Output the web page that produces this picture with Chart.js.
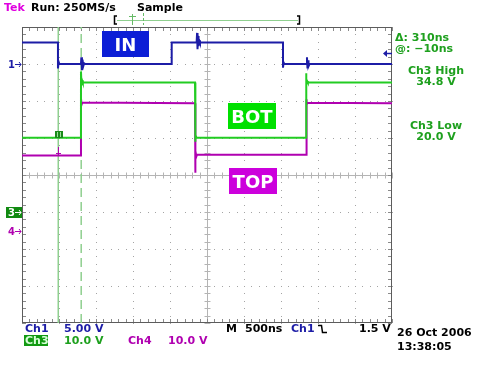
<!DOCTYPE html>
<html>
<head>
<meta charset="utf-8">
<script src="https://cdn.jsdelivr.net/npm/chart.js@4.4.0/dist/chart.umd.min.js"></script>
<style>
  html, body { margin: 0; padding: 0; background: #fff; }
  #scope { display: block; }
</style>
</head>
<body>
<canvas id="scope" width="480" height="365"></canvas>
<script>
// ---- horizontal: time in ns (10 div x 500 ns) ----
const timeDivs = [-2500, -2000, -1500, -1000, -500, 0, 500, 1000, 1500, 2000, 2500];
const vertDivs = [-4, -3, -2, -1, 0, 1, 2, 3, 4];

// ---- Ch1 (IN), volts, 5 V/div ----
const ch1Time  = [-2500, -2014, -2014, -2005, -1995, -1703, -1698, -1690, -1682, -1672, -1660, -1645,
                  -477, -477, -140, -134, -128, -121, -114, -105, -95,
                  1027, 1027, 1035, 1045, 1345, 1351, 1358, 1365, 1372, 1385, 2500];
const ch1Volts = [2.9, 2.9, -0.6, 0.3, 0, 0, 0.9, -0.8, 0.6, -0.3, 0.1, 0,
                  0, 2.9, 2.9, 4.2, 2.0, 3.8, 2.4, 3.2, 2.9,
                  2.9, -0.5, 0.2, 0, 0, 0.9, -0.6, 0.5, -0.3, 0, 0];

// ---- Ch3 (BOT), volts, 10 V/div ----
const ch3Time  = [-2500, -1703, -1703, -1696, -1688, -1678, -162, -162, -152, -142,
                  1338, 1338, 1345, 1353, 1363, 2500];
const ch3Volts = [20.1, 20.1, 38.0, 34.2, 35.6, 35.0, 35.0, 19.0, 20.8, 20.1,
                  20.1, 37.5, 34.4, 35.4, 35.0, 35.0];

// ---- Ch4 (TOP), volts, 10 V/div ----
const ch4Time  = [-2500, -1703, -1703, -1695, -1685, -162, -162, -152, -144, -135,
                  1341, 1341, 1350, 1360, 2500];
const ch4Volts = [20.3, 20.3, 35.8, 34.0, 34.6, 34.4, 15.6, 21.5, 20.0, 20.5,
                  20.5, 35.5, 34.1, 34.5, 34.4];

// ---- cursors (ns) and trigger ----
const cursorTimes = [-2010, -1700];
const trigLevel = 1.5;

const pts = (t, v) => t.map((x, i) => ({ x: x, y: v[i] }));   // pair time/value

const FONT = '"DejaVu Sans", sans-serif';
const BLUE = '#1c1ca6', GREEN = '#22cc22', MAG = '#b000b0', CUR = '#8fcf8f';

// grid, centre cross, border with ticks
const scopeGrid = {
  id: 'scopeGrid',
  beforeDatasetsDraw(chart) {
    const { ctx, chartArea: a, scales } = chart;
    const xs = scales.x, ys = scales.yGrid;
    ctx.save();
    ctx.fillStyle = '#a4a4a4';
    timeDivs.forEach(t => {                                   // dotted verticals
      if (t === 0 || t === -2500 || t === 2500) return;
      const px = Math.round(xs.getPixelForValue(t));
      for (let v = -4; v <= 4.001; v += 0.2) ctx.fillRect(px, Math.round(ys.getPixelForValue(v)), 1, 1);
    });
    vertDivs.forEach(d => {                                   // dotted horizontals
      if (d === 0 || Math.abs(d) === 4) return;
      const py = Math.round(ys.getPixelForValue(d));
      for (let t = -2500; t <= 2500; t += 100) ctx.fillRect(Math.round(xs.getPixelForValue(t)), py, 1, 1);
    });
    // centre cross
    const cx = Math.round(xs.getPixelForValue(0)) + 0.5, cy = Math.round(ys.getPixelForValue(0)) + 0.5;
    ctx.strokeStyle = '#b4b4b4';
    ctx.lineWidth = 1;
    ctx.beginPath();
    ctx.moveTo(a.left, cy); ctx.lineTo(a.right, cy);
    ctx.moveTo(cx, a.top); ctx.lineTo(cx, a.bottom);
    for (let t = -2500; t <= 2500; t += 100) {
      const px = Math.round(xs.getPixelForValue(t)) + 0.5;
      ctx.moveTo(px, cy - 3); ctx.lineTo(px, cy + 3);
    }
    for (let v = -4; v <= 4.001; v += 0.2) {
      const py = Math.round(ys.getPixelForValue(v)) + 0.5;
      ctx.moveTo(cx - 3, py); ctx.lineTo(cx + 3, py);
    }
    ctx.stroke();
    // border ticks
    ctx.strokeStyle = '#8a8a8a';
    ctx.beginPath();
    for (let t = -2500; t <= 2500; t += 100) {
      const px = Math.round(xs.getPixelForValue(t)) + 0.5;
      ctx.moveTo(px, a.top); ctx.lineTo(px, a.top + 4);
      ctx.moveTo(px, a.bottom); ctx.lineTo(px, a.bottom - 4);
    }
    for (let v = -4; v <= 4.001; v += 0.2) {
      const py = Math.round(ys.getPixelForValue(v)) + 0.5;
      ctx.moveTo(a.left, py); ctx.lineTo(a.left + 4, py);
      ctx.moveTo(a.right, py); ctx.lineTo(a.right - 4, py);
    }
    ctx.stroke();
    ctx.strokeStyle = '#5c5c5c';
    ctx.strokeRect(a.left + 0.5, a.top + 0.5, a.right - a.left - 1, a.bottom - a.top - 1);
    ctx.restore();
  }
};

// screen texts, labels and markers
const scopeText = {
  id: 'scopeText',
  afterDraw(chart) {
    const { ctx, chartArea: a, scales } = chart;
    const xs = scales.x;
    const txt = (s, x, y, c, size, align) => {
      ctx.font = 'bold ' + (size || 11) + 'px ' + FONT;
      ctx.fillStyle = c;
      ctx.textAlign = align || 'left';
      ctx.fillText(s, x, y);
    };
    const arrowR = (x, y, c) => {                              // small "->"
      ctx.strokeStyle = c; ctx.lineWidth = 1;
      ctx.beginPath();
      ctx.moveTo(x, y + 0.5); ctx.lineTo(x + 6, y + 0.5);
      ctx.moveTo(x + 4, y - 2); ctx.lineTo(x + 6, y + 0.5); ctx.lineTo(x + 4, y + 3);
      ctx.stroke();
    };
    ctx.save();
    ctx.textBaseline = 'alphabetic';

    // header
    txt('Tek', 4, 11, '#e000e0');
    txt('Run: 250MS/s', 31, 11, '#000');
    txt('Sample', 137, 11, '#000');

    // record bar
    ctx.strokeStyle = CUR; ctx.lineWidth = 1;
    ctx.beginPath(); ctx.moveTo(117, 20.5); ctx.lineTo(298, 20.5); ctx.stroke();
    ctx.strokeStyle = '#000'; ctx.lineWidth = 1.5;
    ctx.beginPath();
    ctx.moveTo(117, 16); ctx.lineTo(114.5, 16); ctx.lineTo(114.5, 24); ctx.lineTo(117, 24);
    ctx.moveTo(297, 16); ctx.lineTo(299.5, 16); ctx.lineTo(299.5, 24); ctx.lineTo(297, 24);
    ctx.stroke();
    ctx.strokeStyle = '#66bb66'; ctx.lineWidth = 1;
    ctx.beginPath();
    ctx.moveTo(132.5, 14); ctx.lineTo(132.5, 25);
    ctx.moveTo(129, 16.5); ctx.lineTo(136, 16.5);
    ctx.stroke();
    ctx.setLineDash([3, 2]);
    ctx.beginPath(); ctx.moveTo(143.5, 13); ctx.lineTo(143.5, 25); ctx.stroke();
    ctx.setLineDash([]);

    // label boxes
    const box = (s, x, y, w, h, c) => {
      ctx.fillStyle = c; ctx.fillRect(x, y, w, h);
      txt(s, x + w / 2, y + h - 6, '#fff', 18, 'center');
    };
    box('IN', 102, 31, 47, 26, '#0c1ed6');
    box('BOT', 228, 103, 48, 26, '#00e000');
    box('TOP', 229, 168, 48, 26, '#cc00dc');

    // channel ground markers on left edge
    const g1 = Math.round(scales.y1.getPixelForValue(0));
    const g3 = Math.round(scales.y3.getPixelForValue(0));
    const g4 = Math.round(scales.y4.getPixelForValue(0));
    txt('1', 8, g1 + 4, BLUE, 10);
    arrowR(15, g1, BLUE);
    ctx.fillStyle = '#118a11'; ctx.fillRect(6, g3 - 5, 16, 11);
    txt('3', 8, g3 + 4, '#fff', 10);
    arrowR(15, g3, '#fff');
    txt('4', 8, g4 + 4, MAG, 10);
    arrowR(15, g4, MAG);

    // trigger level arrow on right edge
    const tl = Math.round(scales.y1.getPixelForValue(trigLevel)) + 0.5;
    ctx.strokeStyle = BLUE; ctx.fillStyle = BLUE; ctx.lineWidth = 1.5;
    ctx.beginPath(); ctx.moveTo(386, tl); ctx.lineTo(392, tl); ctx.stroke();
    ctx.beginPath(); ctx.moveTo(383, tl); ctx.lineTo(387, tl - 3.5); ctx.lineTo(387, tl + 3.5); ctx.closePath(); ctx.fill();

    // cursor / trace markers
    const cA = Math.round(xs.getPixelForValue(cursorTimes[0]));
    const m3 = Math.round(scales.y3.getPixelForValue(ch3Volts[0]));
    const m4 = Math.round(scales.y4.getPixelForValue(ch4Volts[0]));
    ctx.fillStyle = '#1a8a1a'; ctx.fillRect(cA - 3, m3 - 7, 8, 7);
    ctx.fillStyle = '#9be09b'; ctx.fillRect(cA - 1, m3 - 6, 1, 5); ctx.fillRect(cA + 2, m3 - 6, 1, 5);
    ctx.strokeStyle = MAG; ctx.lineWidth = 1;
    ctx.beginPath();
    ctx.moveTo(cA + 0.5, m4 - 8); ctx.lineTo(cA + 0.5, m4);
    ctx.moveTo(cA - 2, m4 - 1.5); ctx.lineTo(cA + 3, m4 - 1.5);
    ctx.stroke();

    // right readouts
    txt('\u0394: 310ns', 395, 41, '#1ea01e');
    txt('@: \u221210ns', 395, 52, '#1ea01e');
    txt('Ch3 High', 436, 74, '#1ea01e', 11, 'center');
    txt('34.8 V', 436, 85, '#1ea01e', 11, 'center');
    txt('Ch3 Low', 436, 129, '#1ea01e', 11, 'center');
    txt('20.0 V', 436, 140, '#1ea01e', 11, 'center');

    // bottom readouts
    txt('Ch1', 25, 332, BLUE);
    txt('5.00 V', 64, 332, BLUE);
    ctx.fillStyle = '#129a12'; ctx.fillRect(24, 335, 24, 11);
    txt('Ch3', 25, 344, '#d8ffd8');
    txt('10.0 V', 64, 344, '#1ea01e');
    txt('Ch4', 128, 344, MAG);
    txt('10.0 V', 168, 344, MAG);
    txt('M', 226, 332, '#000');
    txt('500ns', 245, 332, '#000');
    txt('Ch1', 291, 332, BLUE);
    ctx.strokeStyle = '#000'; ctx.lineWidth = 1.5;
    ctx.beginPath();
    ctx.moveTo(318, 325.5); ctx.lineTo(321.5, 325.5); ctx.lineTo(322.5, 332.5); ctx.lineTo(327, 332.5);
    ctx.stroke();
    txt('1.5 V', 359, 332, '#000');
    txt('26 Oct 2006', 397, 336, '#000');
    txt('13:38:05', 397, 350, '#000');
    ctx.restore();
  }
};

const trace = (label, data, color, axis) => ({
  label: label, data: data, yAxisID: axis,
  borderColor: color, borderWidth: 2, pointRadius: 0,
  tension: 0, fill: false, order: 1
});

new Chart(document.getElementById('scope').getContext('2d'), {
  type: 'line',
  data: {
    datasets: [
      trace('Ch1', pts(ch1Time, ch1Volts), BLUE, 'y1'),
      trace('Ch3', pts(ch3Time, ch3Volts), GREEN, 'y3'),
      trace('Ch4', pts(ch4Time, ch4Volts), MAG, 'y4'),
      { label: 'Cursor a', data: [{ x: cursorTimes[0], y: -4 }, { x: cursorTimes[0], y: 4 }], yAxisID: 'yGrid',
        borderColor: CUR, borderWidth: 1.5, pointRadius: 0, order: 2 },
      { label: 'Cursor b', data: [{ x: cursorTimes[1], y: -4 }, { x: cursorTimes[1], y: 4 }], yAxisID: 'yGrid',
        borderColor: CUR, borderWidth: 1.5, borderDash: [9, 5], pointRadius: 0, order: 2 }
    ]
  },
  options: {
    responsive: false,
    animation: false,
    layout: { padding: { left: 22, right: 88, top: 27, bottom: 42 } },
    plugins: { legend: { display: false }, tooltip: { enabled: false } },
    scales: {
      x:     { type: 'linear', min: -2500, max: 2500, display: false },
      yGrid: { type: 'linear', min: -4, max: 4, display: false },
      y1:    { type: 'linear', min: -35, max: 5, display: false },   // 5 V/div, gnd +3 div
      y3:    { type: 'linear', min: -30, max: 50, display: false },  // 10 V/div, gnd -1 div
      y4:    { type: 'linear', min: -25, max: 55, display: false }   // 10 V/div, gnd -1.5 div
    }
  },
  plugins: [scopeGrid, scopeText]
});
</script>
</body>
</html>
